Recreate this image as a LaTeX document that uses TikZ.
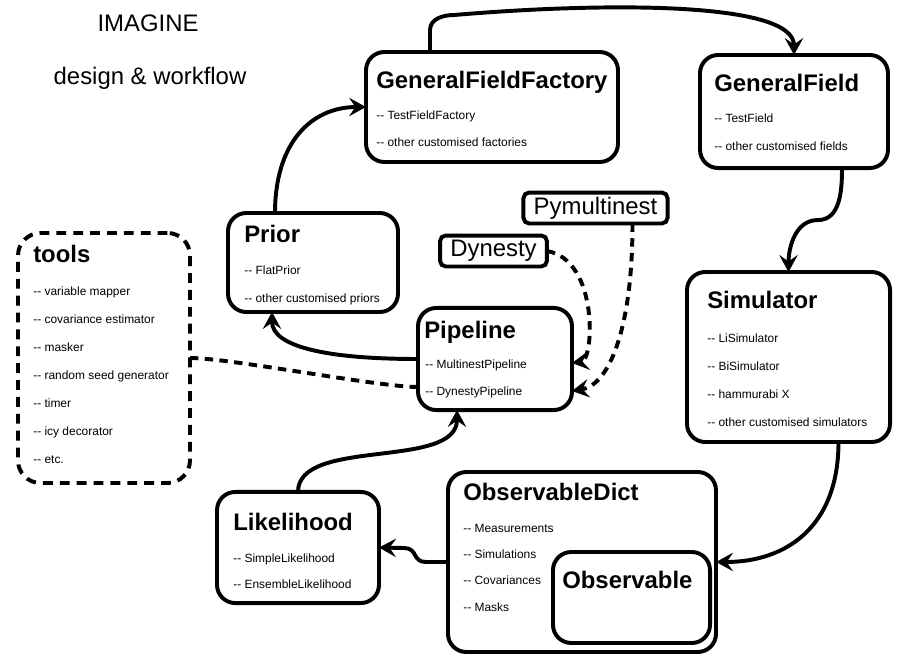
\documentclass[tikz,border=0pt]{standalone}
\usepackage{fontspec}
\setmainfont{Liberation Sans}
\usetikzlibrary{arrows.meta,calc,positioning}
\tikzset{box/.style={draw,line width=2.8pt,rounded corners=13pt,outer sep=0pt,inner sep=0pt},
	toolbox/.style={box,dash pattern=on 7pt off 5pt},
	tag/.style={draw,line width=2.8pt,rounded corners=4pt,outer sep=0pt,
		inner xsep=7.3pt,inner ysep=0pt,minimum height=22pt,font=\fontsize{17}{20}\selectfont},
	head/.style={anchor=base west,inner sep=0pt,font=\fontsize{17}{20}\selectfont\bfseries},
	items/.style={anchor=base west,inner sep=0pt,align=left,font=\fontsize{8.5}{19.9}\selectfont},
	caption/.style={anchor=base,inner sep=0pt,font=\fontsize{17}{20}\selectfont},
	flow/.style={line width=2.8pt,-{Stealth[length=12pt,width=13pt,inset=4.5pt]}},
	link/.style={flow,dash pattern=on 6pt off 4.5pt},
	dashline/.style={line width=2.8pt,dash pattern=on 6pt off 4.5pt}}

\begin{document}
\begin{tikzpicture}[x=0.025cm,y=-0.025cm]
\useasboundingbox (0,0) rectangle (902,665);
\node[caption] (name) at (148,31) {IMAGINE};
\node[caption] (sub) at (150,84) {design \& workflow};

\node[box,minimum width=179.2pt,minimum height=78.2pt] (gff) at (492,107) {};
\node[head] (gfft) at (376,88) {GeneralFieldFactory};
\node[items,font=\fontsize{8.5}{19.2}\selectfont] (gffl) at (376,146) {-{}- TestFieldFactory\\-{}- other customised factories};

\node[box,minimum width=133.7pt,minimum height=80.4pt] (gf) at (794,111.5) {};
\node[head] (gft) at (714,91) {GeneralField};
\node[items] (gfl) at (714,150) {-{}- TestField\\-{}- other customised fields};

\node[box,minimum width=120.9pt,minimum height=70.4pt] (prior) at (313,262.5) {};
\node[head] (priort) at (244,242) {Prior};
\node[items] (priorl) at (244,302) {-{}- FlatPrior\\-{}- other customised priors};

\node[toolbox,minimum width=122.3pt,minimum height=177.8pt,rounded corners=16pt] (tools) at (104,358) {};
\node[head] (toolst) at (33,262) {tools};
\node[items] (toolsl) at (33,463) {-{}- variable mapper\\-{}- covariance estimator\\-{}- masker\\
  -{}- random seed generator\\-{}- timer\\-{}- icy decorator\\-{}- etc.};

\node[box,minimum width=109.5pt,minimum height=72.6pt] (pipe) at (495,359) {};
\node[head] (pipet) at (424,338) {Pipeline};
\node[items,font=\fontsize{8.5}{19.2}\selectfont] (pipel) at (425,395) {-{}- MultinestPipeline\\-{}- DynestyPipeline};

\node[tag] (dyn) at (493.5,251) {Dynesty};
\node[tag] (pym) at (595.5,208) {Pymultinest};

\node[box,minimum width=144.4pt,minimum height=120.9pt] (sim) at (788.5,357) {};
\node[head] (simt) at (707,308) {Simulator};
\node[items] (siml) at (707,426) {-{}- LiSimulator\\-{}- BiSimulator\\-{}- hammurabi X\\-{}- other customised simulators};

\node[box,minimum width=115.2pt,minimum height=79pt] (like) at (298,547.5) {};
\node[head] (liket) at (233,530) {Likelihood};
\node[items,font=\fontsize{8.5}{17.8}\selectfont] (likel) at (233,588) {-{}- SimpleLikelihood\\-{}- EnsembleLikelihood};

\node[box,minimum width=190.6pt,minimum height=128pt] (obsd) at (582,562) {};
\node[head] (obsdt) at (463,500) {ObservableDict};
\node[items,font=\fontsize{8.5}{18.5}\selectfont] (obsdl) at (463,611) {-{}- Measurements\\-{}- Simulations\\-{}- Covariances\\-{}- Masks};
\node[box,minimum width=111.7pt,minimum height=64.7pt] (obs) at (631.5,597.5) {};
\node[head] (obst) at (562,588) {Observable};

\draw[flow] ($(gff.north west)+(64,0)$) -- ++(0,-22) to[out=90,in=180] ++(24,-15)
  .. controls +(140,-12) and +(0,-55) .. (gf.north);
\draw[flow] ($(gf.south)+(48,0)$) to[out=-90,in=0] ++(-24,52) to[out=180,in=90] (sim.north);
\draw[flow] ($(sim.south)+(50,0)$) .. controls +(0,85) and +(70,0) .. (obsd.east);
\draw[flow] (obsd.west) -- ++(-22,0) .. controls +(-14,0) and +(14,0) .. ++(-22,-14) -- (like.east);
\draw[flow] (like.north) .. controls +(0,-55) and +(0,60) .. ($(pipe.south)+(-38,0)$);
\draw[flow] (pipe.west) .. controls +(-90,0) and +(0,35) .. ($(prior.south)+(-41,0)$);
\draw[flow] ($(prior.north)+(-38,0)$) .. controls +(0,-70) and +(-55,0) .. (gff.west);
\draw[dashline] (tools.east) .. controls +(40,0) and +(-40,0) .. ($(pipe.west)+(0,28)$);
\draw[link] (dyn.east) .. controls +(52,9) and +(22,-3) .. ($(pipe.east)+(0,4)$);
\draw[link] ($(pym.south)+(37,0)$) .. controls +(0,106) and +(37,-6) .. ($(pipe.east)+(0,32)$);
\end{tikzpicture}
\end{document}
